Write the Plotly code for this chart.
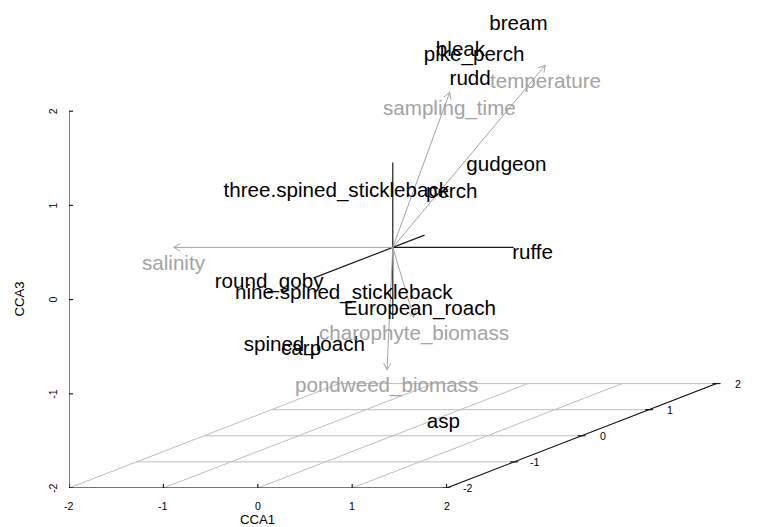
import math
import plotly.graph_objects as go

# ---------------- data ----------------
axis_ticks = [-2, -1, 0, 1, 2]
tick_labels = ["-2", "-1", "0", "1", "2"]

species = ["bream", "bleak", "pike_perch", "rudd", "gudgeon", "perch",
           "three.spined_stickleback", "ruffe", "round_goby",
           "nine.spined_stickleback", "European_roach", "spined_loach",
           "carp", "asp"]
sp_cca1 = [1.045, 0.574, 0.647, 0.748, 0.846, 0.481, -0.312, 1.481, -0.452,
           -0.162, 0.215, -0.508, -0.614, 0.751]
sp_cca2 = [0.4, 0.2, 0.3, 0.1, 0.5, 0.2, -0.4, 0.0, -1.2, -0.5, 0.1, -0.6,
           -0.5, -0.3]
sp_cca3 = [2.271, 2.047, 1.967, 1.775, 0.751, 0.550, 0.725, -0.049, -0.022,
           -0.335, -0.671, -0.855, -0.926, -1.763]

env_names = ["salinity", "temperature", "sampling_time",
             "charophyte_biomass", "pondweed_biomass"]
env_cca1 = [-2.32, 1.40, 0.46, 0.15, 0.01]
env_cca2 = [0.0, 0.3, 0.2, 0.1, -0.1]
env_cca3 = [0.00, 1.85, 1.59, -0.77, -1.27]

# ranges of the ordination axes drawn through the origin
cca1_range = [0.0, 1.28]
cca2_range = [-1.15, 0.47]
cca3_range = [-0.76, 0.90]

# ---------------- projection / layout constants ----------------
W, H = 759, 527
PAGE_OFF = 8                     # default body margin of the html page
ML, MR, MT, MB = 69 - PAGE_OFF, 0, 0, 47
PX_X, PX_Y = 94.4, 94.2          # pixels per unit
KX, KY = 0.715, 0.2771           # oblique projection of the CCA2 axis
YMIN = -2.0
ZMIN = -2.0
XLO, XHI = -2.0, 2.0
YLO, YHI = -2.0, 2.0
ZLO, ZHI = -2.0, 2.0
TEXT_DY = -2.0 / PX_Y            # small downward nudge of species labels

x_range = [-2.0, -2.0 + (W - ML - MR) / PX_X]
y_range = [-2.0, -2.0 + (H - MT - MB) / PX_Y]


def proj(x, y, z):
    return x + (y - YMIN) * KX, z + (y - YMIN) * KY


def seg_trace(segs, color, width):
    xs, ys = [], []
    for (a, b) in segs:
        xs += [a[0], b[0], None]
        ys += [a[1], b[1], None]
    return go.Scatter(x=xs, y=ys, mode="lines", hoverinfo="skip",
                      line=dict(color=color, width=width))


FONT = "Arial, Liberation Sans, sans-serif"
GRID = "#BEBEBE"
ARR = "#A3A3A3"

fig = go.Figure()

# grid in the bottom plane
grid = []
for t in axis_ticks:
    grid.append((proj(t, YLO, ZMIN), proj(t, YHI, ZMIN)))
    grid.append((proj(XLO, t, ZMIN), proj(XHI, t, ZMIN)))
fig.add_trace(seg_trace(grid, GRID, 1))

# box axes
axes = [
    (proj(XLO, YLO, ZMIN), proj(XHI, YLO, ZMIN)),
    (proj(XLO, YLO, ZLO), proj(XLO, YLO, ZHI)),
    (proj(XHI, YLO, ZMIN), proj(XHI, YHI, ZMIN)),
]
tk = []
dx4, dy4 = 4 / PX_X, 4 / PX_Y
for t in axis_ticks:
    px, py = proj(t, YLO, ZMIN)
    tk.append(((px, py - dy4), (px, py + dy4)))
    px, py = proj(XLO, YLO, t)
    tk.append(((px - dx4, py), (px + dx4, py)))
    px, py = proj(XHI, t, ZMIN)
    tk.append(((px - dx4, py), (px + dx4, py)))
fig.add_trace(seg_trace(axes + tk, "#111111", 1.1))

# ordination axes through the origin
ax_lines = [
    (proj(cca1_range[0], 0, 0), proj(cca1_range[1], 0, 0)),
    (proj(0, cca2_range[0], 0), proj(0, cca2_range[1], 0)),
    (proj(0, 0, cca3_range[0]), proj(0, 0, cca3_range[1])),
]
fig.add_trace(seg_trace(ax_lines, "#1a1a1a", 1.2))

# biplot arrows
o = proj(0, 0, 0)
arr = []
head_len, head_ang = 7.5, math.radians(30)
for x, y, z in zip(env_cca1, env_cca2, env_cca3):
    tip = proj(x, y, z)
    arr.append((o, tip))
    dxp = (tip[0] - o[0]) * PX_X
    dyp = (tip[1] - o[1]) * PX_Y
    th = math.atan2(dyp, dxp)
    for s in (1, -1):
        a = th + s * head_ang
        hx = tip[0] - head_len * math.cos(a) / PX_X
        hy = tip[1] - head_len * math.sin(a) / PX_Y
        arr.append((tip, (hx, hy)))
fig.add_trace(seg_trace(arr, ARR, 1))

# species labels
sp_xy = [proj(x, y, z) for x, y, z in zip(sp_cca1, sp_cca2, sp_cca3)]
fig.add_trace(go.Scatter(
    x=[p[0] for p in sp_xy], y=[p[1] + TEXT_DY for p in sp_xy], text=species,
    mode="text", textposition="middle center", hoverinfo="skip",
    textfont=dict(family=FONT, size=20.6, color="black")))

annotations = []
for name, x, y, z in zip(env_names, env_cca1, env_cca2, env_cca3):
    tx, ty = proj(x, y, z)
    annotations.append(dict(x=tx, y=ty, xref="x", yref="y", text=name,
                            showarrow=False, yshift=-15.5,
                            font=dict(family=FONT, size=20.6, color=ARR)))

TF = dict(family=FONT, size=10.6, color="black")
for t, lab in zip(axis_ticks, tick_labels):
    px, py = proj(t, YLO, ZMIN)
    annotations.append(dict(x=px, y=py, xref="x", yref="y", text=lab,
                            showarrow=False, yshift=-18, font=TF))
    px, py = proj(XLO, YLO, t)
    annotations.append(dict(x=px, y=py, xref="x", yref="y", text=lab,
                            showarrow=False, xshift=-16, textangle=-90,
                            font=TF))
    px, py = proj(XHI, t, ZMIN)
    annotations.append(dict(x=px, y=py, xref="x", yref="y", text=lab,
                            showarrow=False, xshift=21, font=TF))

LF = dict(family=FONT, size=13.2, color="black")
px, py = proj(0, YLO, ZMIN)
annotations.append(dict(x=px, y=py, xref="x", yref="y", text="CCA1",
                        showarrow=False, yshift=-31, font=LF))
px, py = proj(XLO, YLO, 0)
annotations.append(dict(x=px, y=py, xref="x", yref="y", text="CCA3",
                        showarrow=False, xshift=-49, textangle=-90, font=LF))
px, py = proj(XHI, YHI, ZMIN)
annotations.append(dict(x=px, y=py, xref="x", yref="y", text="CCA2",
                        showarrow=False, xshift=43, textangle=-90, font=LF))

fig.update_layout(
    template="none",
    width=W, height=H,
    margin=dict(l=ML, r=MR, t=MT, b=MB, pad=0),
    paper_bgcolor="white", plot_bgcolor="white",
    showlegend=False,
    xaxis=dict(visible=False, range=x_range, automargin=False, fixedrange=True),
    yaxis=dict(visible=False, range=y_range, automargin=False, fixedrange=True),
    annotations=annotations,
)

fig.write_html("out.html", config=dict(displayModeBar=False))
